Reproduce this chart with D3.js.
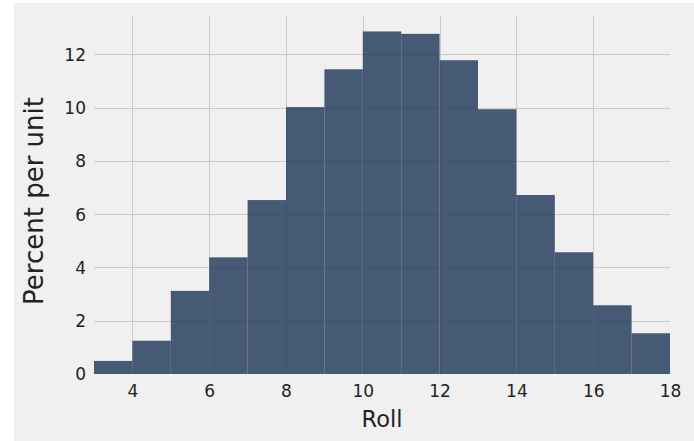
<!DOCTYPE html>
<html>
<head>
<meta charset="utf-8">
<script src="https://cdn.jsdelivr.net/npm/d3@7"></script>
<style>
  html, body { margin: 0; padding: 0; background: #ffffff; }
  svg { display: block; }
</style>
</head>
<body>
<svg id="chart" width="694" height="441"></svg>
<script>
// Data: histogram of rolls, bins of width 1 from 3 to 18
const binStarts = [3, 4, 5, 6, 7, 8, 9, 10, 11, 12, 13, 14, 15, 16, 17];
const percentPerUnit = [0.49, 1.25, 3.12, 4.38, 6.53, 10.02, 11.44, 12.86, 12.77, 11.78, 9.94, 6.72, 4.57, 2.58, 1.53];
const binWidth = 1;
const xTicks = [4, 6, 8, 10, 12, 14, 16, 18];
const yTicks = [0, 2, 4, 6, 8, 10, 12];
const xLabel = "Roll";
const yLabel = "Percent per unit";

const svg = d3.select("#chart");
const W = 694, H = 441;

// figure background
svg.append("rect").attr("x", 14).attr("y", 3).attr("width", W - 14).attr("height", H - 3).attr("fill", "#f0f0f0");

const plot = { left: 94, right: 670, top: 16, bottom: 374 };
const x = d3.scaleLinear().domain([3, 18]).range([plot.left, plot.right]);
const y = d3.scaleLinear().domain([0, 13.44]).range([plot.bottom, plot.top]);

// gridlines
const grid = svg.append("g").attr("stroke", "#cbcbcb").attr("stroke-width", 1);
grid.selectAll("line.v").data(xTicks.filter(t => t > 3 && t < 18)).join("line")
  .attr("class", "v")
  .attr("x1", d => Math.round(x(d)) + 0.5).attr("x2", d => Math.round(x(d)) + 0.5)
  .attr("y1", plot.top).attr("y2", plot.bottom);
grid.selectAll("line.h").data(yTicks.filter(t => t > 0)).join("line")
  .attr("class", "h")
  .attr("x1", plot.left).attr("x2", plot.right)
  .attr("y1", d => Math.round(y(d)) + 0.5).attr("y2", d => Math.round(y(d)) + 0.5);

// bars
svg.append("g").selectAll("rect").data(binStarts).join("rect")
  .attr("x", (d) => x(d))
  .attr("width", (d) => x(d + binWidth) - x(d))
  .attr("y", (d, i) => y(percentPerUnit[i]))
  .attr("height", (d, i) => y(0) - y(percentPerUnit[i]))
  .attr("fill", "#1d3456")
  .attr("fill-opacity", 0.8);

const font = "DejaVu Sans";

// x axis tick labels
const xAxis = d3.axisBottom(x).tickValues(xTicks).tickSize(0).tickPadding(0).tickFormat(d3.format("d"));
const gx = svg.append("g").attr("transform", `translate(0,${plot.bottom})`).call(xAxis);
gx.select(".domain").remove();
gx.selectAll("text")
  .attr("font-family", font).attr("font-size", 17).attr("fill", "#222")
  .attr("y", 17.5).attr("dy", "0.35em");

// y axis tick labels
const yAxis = d3.axisLeft(y).tickValues(yTicks).tickSize(0).tickPadding(0).tickFormat(d3.format("d"));
const gy = svg.append("g").attr("transform", `translate(${plot.left},0)`).call(yAxis);
gy.select(".domain").remove();
gy.selectAll("text")
  .attr("font-family", font).attr("font-size", 17).attr("fill", "#222")
  .attr("x", -8).attr("dy", "0.35em");

// axis labels
svg.append("text")
  .attr("x", (plot.left + plot.right) / 2).attr("y", 427)
  .attr("text-anchor", "middle")
  .attr("font-family", font).attr("font-size", 22.5).attr("fill", "#222")
  .text(xLabel);

svg.append("text")
  .attr("transform", `translate(43,201) rotate(-90)`)
  .attr("text-anchor", "middle")
  .attr("font-family", font).attr("font-size", 26).attr("fill", "#222")
  .text(yLabel);
</script>
</body>
</html>
